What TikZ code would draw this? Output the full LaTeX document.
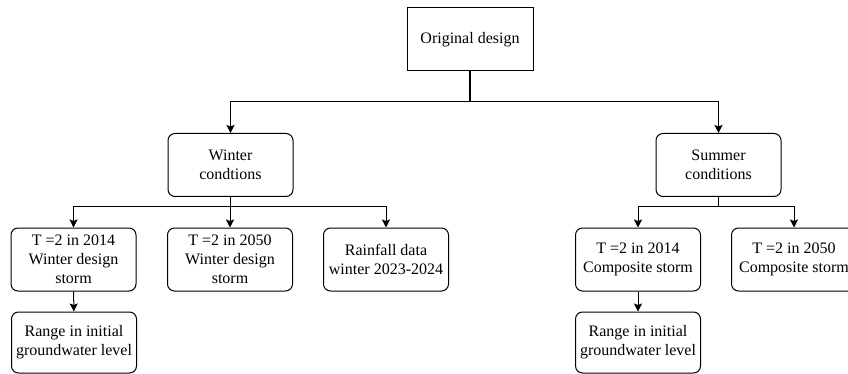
\documentclass[tikz,border=0pt]{standalone}
\usepackage{fontspec}
\setmainfont{Liberation Serif}
\usepackage{tikz}
\usetikzlibrary{positioning,arrows.meta}
\tikzset{
  every node/.style={font=\fontsize{16}{19}\selectfont, align=center},
  topbox/.style={draw, line width=1pt, minimum width=126pt, minimum height=63pt, inner sep=1pt},
  casebox/.style={draw, line width=1pt, rounded corners=7pt, minimum width=125pt, minimum height=63pt, inner sep=1pt},
  link/.style={line width=1pt},
  arrowlink/.style={line width=1pt, -{Stealth[length=8pt,width=8pt,inset=1.5pt]}}
}

\begin{document}
\begin{tikzpicture}[x=1pt, y=-1pt]
	\useasboundingbox (0,0) rectangle (848,374);
	% top level
	\node[topbox] (orig) at (470,39.5) {Original design};
	\node[casebox] (winter) at (230.5,165) {Winter\\condtions};
	\node[casebox] (summer) at (718.5,165) {Summer\\conditions};
	% winter cases
	\node[casebox] (w2014) at (73.5,259.5) {T =2 in 2014\\Winter design\\storm};
	\node[casebox] (w2050) at (230,259.5) {T =2 in 2050\\Winter design\\storm};
	\node[casebox] (wdata) at (386,259.5) {Rainfall data\\winter 2023-2024};
	\node[casebox, minimum height=61pt] (wgw) at (74,342.5) {Range in initial\\groundwater level};
	% summer cases
	\node[casebox] (s2014) at (638,259.5) {T =2 in 2014\\Composite storm};
	\node[casebox] (s2050) at (794,259.5) {T =2 in 2050\\Composite storm};
	\node[casebox, minimum height=61pt] (sgw) at (638,342.5) {Range in initial\\groundwater level};
	
	\coordinate (j0) at (470,102);
	\coordinate (j1) at (230.5,206);
	\coordinate (j2) at (718.5,206);
	
	\draw[link, line width=1.5pt] (orig) -- (j0);
	\foreach \n in {winter, summer} {
		\draw[arrowlink] (j0) -| (\n);
	}
	\draw[link] (winter) -- (j1);
	\foreach \n in {w2014, w2050, wdata} {
		\draw[arrowlink] (j1) -| (\n);
	}
	\draw[link] (summer) -- (j2);
	\foreach \n in {s2014, s2050} {
		\draw[arrowlink] (j2) -| (\n);
	}
	\draw[arrowlink] (w2014) -- (wgw);
	\draw[arrowlink] (s2014) -- (sgw);
\end{tikzpicture}
\end{document}
